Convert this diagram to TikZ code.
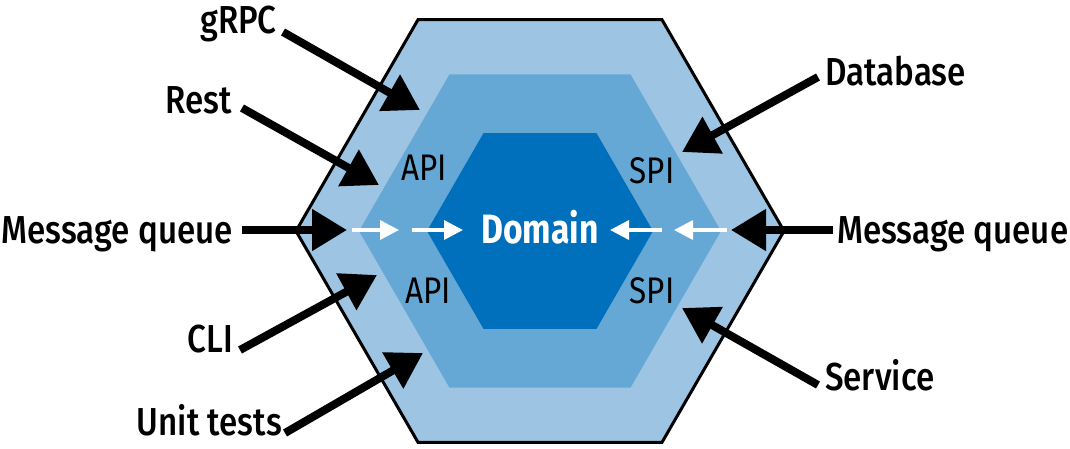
\documentclass[tikz,border=0pt]{standalone}
\usepackage{fontspec}
\usetikzlibrary{arrows.meta}
\setmainfont[FakeStretch=0.85]{Fira Sans}
\IfFontExistsTF{Fira Sans Medium}{\newfontfamily\labfont[FakeStretch=0.85]{Fira Sans Medium}}{\newfontfamily\labfont[FakeStretch=0.85,FakeBold=1.5]{Fira Sans}}
\newfontfamily\domfont[FakeStretch=0.82]{Fira Sans Bold}
\definecolor{outerblue}{HTML}{9DC5E3}
\definecolor{midblue}{HTML}{66A8D5}
\definecolor{innerblue}{HTML}{0070BC}
\tikzset{
  lab/.style={inner sep=0pt, font=\labfont\fontsize{39}{42}\selectfont},
  port/.style={inner sep=0pt, font=\fontsize{37}{40}\selectfont},
  dom/.style={inner sep=0pt, text=white, font=\domfont\fontsize{41}{44}\selectfont},
  bigarrow/.style={line width=8pt, -{Triangle[length=35pt,width=40pt]}},
  whitearrow/.style={white, line width=3.5pt, -{Triangle[length=19pt,width=19pt]}}
}
\begin{document}
\begin{tikzpicture}[x=1pt,y=-1pt]
\useasboundingbox (0,0) rectangle (1070,448);
% hexagons
\fill[outerblue] (296,231) -- (418,19.7) -- (662,19.7) -- (784,231) -- (662,442.3) -- (418,442.3) -- cycle;
\fill[midblue] (359,231) -- (449.5,74.3) -- (630.5,74.3) -- (721,231) -- (630.5,387.7) -- (449.5,387.7) -- cycle;
\fill[innerblue] (427,231) -- (483.5,133.1) -- (596.5,133.1) -- (653,231) -- (596.5,328.9) -- (483.5,328.9) -- cycle;
\draw[line width=3pt, line join=miter] (296,231) -- (418,19.7) -- (662,19.7) -- (784,231) -- (662,442.3) -- (418,442.3) -- cycle;
% port labels
\node[port, anchor=base] (api1) at (424,180) {API};
\node[port, anchor=base] (spi1) at (652,183) {SPI};
\node[port, anchor=base] (api2) at (428,303) {API};
\node[port, anchor=base] (spi2) at (652,303) {SPI};
\node[dom, anchor=base] (domain) at (540,243) {Domain};
% white arrows
\coordinate (wl1s) at (352,230); \coordinate (wl1e) at (399,230);
\coordinate (wl2s) at (412,230); \coordinate (wl2e) at (463,230);
\coordinate (wr1s) at (662,230); \coordinate (wr1e) at (610,230);
\coordinate (wr2s) at (727,230); \coordinate (wr2e) at (674,230);
\draw[whitearrow] (wl1s) -- (wl1e);
\draw[whitearrow] (wl2s) -- (wl2e);
\draw[whitearrow] (wr1s) -- (wr1e);
\draw[whitearrow] (wr2s) -- (wr2e);
% outside labels
\node[lab, anchor=base east] (grpc) at (277,33) {gRPC};
\node[lab, anchor=base east] (rest) at (232,113) {Rest};
\node[lab, anchor=base east] (mql) at (233,243) {Message queue};
\node[lab, anchor=base east] (cli) at (233,352) {CLI};
\node[lab, anchor=base east] (unit) at (282,435) {Unit tests};
\node[lab, anchor=base west] (db) at (825,85) {Database};
\node[lab, anchor=base west] (mqr) at (837,243) {Message queue};
\node[lab, anchor=base west] (svc) at (825,390) {Service};
% arrow coordinates
\coordinate (grpcs) at (283,32);  \coordinate (grpct) at (420,110);
\coordinate (rests) at (242,108); \coordinate (restt) at (379,185);
\coordinate (mqls) at (242,230);  \coordinate (mqlt) at (347,230);
\coordinate (clis) at (240,350);  \coordinate (clit) at (377,275);
\coordinate (units) at (285,433); \coordinate (unitt) at (423,353);
\coordinate (dbs) at (818,77);    \coordinate (dbt) at (682,152);
\coordinate (mqrs) at (833,230);  \coordinate (mqrt) at (731,230);
\coordinate (svcs) at (818,385);  \coordinate (svct) at (682,308);
\draw[bigarrow] (grpcs) -- (grpct);
\draw[bigarrow] (rests) -- (restt);
\draw[bigarrow] (mqls) -- (mqlt);
\draw[bigarrow] (clis) -- (clit);
\draw[bigarrow] (units) -- (unitt);
\draw[bigarrow] (dbs) -- (dbt);
\draw[bigarrow] (mqrs) -- (mqrt);
\draw[bigarrow] (svcs) -- (svct);
\end{tikzpicture}
\end{document}
